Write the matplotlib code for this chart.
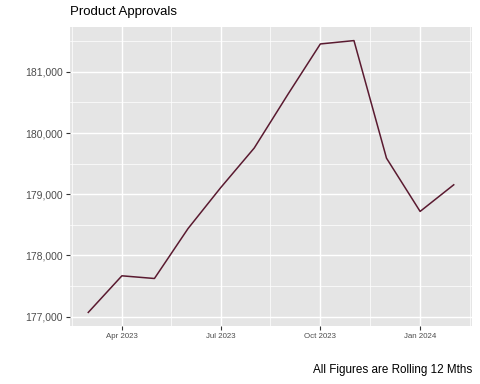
import pandas as pd
import matplotlib
matplotlib.use('Agg')
import matplotlib.pyplot as plt
import matplotlib.dates as mdates
import matplotlib.ticker as ticker

# Monthly rolling 12 month approvals
months = pd.date_range('2023-03-01', '2024-02-01', freq='MS')
approvals = [177070, 177668, 177624, 178440, 179106, 179755,
             180630, 181456, 181511, 179590, 178720, 179155]

x_ticks = pd.to_datetime(['2023-04-01', '2023-07-01', '2023-10-01', '2024-01-01'])
x_tick_labels = ['Apr 2023', 'Jul 2023', 'Oct 2023', 'Jan 2024']
x_minor = pd.to_datetime(['2023-02-14', '2023-05-16', '2023-08-16', '2023-11-16', '2024-02-16'])
y_ticks = [177000, 178000, 179000, 180000, 181000]
y_minor = [177500, 178500, 179500, 180500, 181500]

plt.rcParams['font.family'] = ['Liberation Sans', 'DejaVu Sans']

fig = plt.figure(figsize=(4.8, 3.84), dpi=100)
ax = fig.add_axes([70 / 480, 58 / 384, 402 / 480, 299 / 384])
ax.set_facecolor('#E5E5E5')

ax.plot(months, approvals, color='#5A1A30', linewidth=1.1, zorder=3)

ax.set_xticks(mdates.date2num(x_ticks))
ax.set_xticklabels(x_tick_labels)
ax.set_xticks(mdates.date2num(x_minor), minor=True)
ax.set_yticks(y_ticks)
ax.set_yticks(y_minor, minor=True)
ax.yaxis.set_major_formatter(ticker.FuncFormatter(lambda v, p: f'{v:,.0f}'))

# ggplot style expansion of 5% (set after ticks so they don't widen the view)
span = months[-1] - months[0]
ax.set_xlim(months[0] - span * 0.05, months[-1] + span * 0.05)
lo, hi = min(approvals), max(approvals)
pad = (hi - lo) * 0.05
ax.set_ylim(lo - pad, hi + pad)

ax.grid(which='major', color='white', linewidth=1.0)
ax.grid(which='minor', color='white', linewidth=0.5)
ax.set_axisbelow(True)

for s in ax.spines.values():
    s.set_visible(False)

ax.tick_params(axis='both', which='major', length=3, width=0.8, color='#333333')
ax.tick_params(axis='both', which='minor', length=0)
ax.tick_params(axis='x', labelsize=5.7, labelcolor='#4D4D4D', pad=2)
ax.tick_params(axis='y', labelsize=7.5, labelcolor='#4D4D4D', pad=2)

fig.text(70 / 480, 1 - 12 / 384, 'Product Approvals', fontsize=9.5,
         ha='left', va='center', color='black')
fig.text(472 / 480, 1 - 370 / 384, 'All Figures are Rolling 12 Mths', fontsize=8.4,
         ha='right', va='center', color='black')

fig.savefig('out.png', dpi=100)
